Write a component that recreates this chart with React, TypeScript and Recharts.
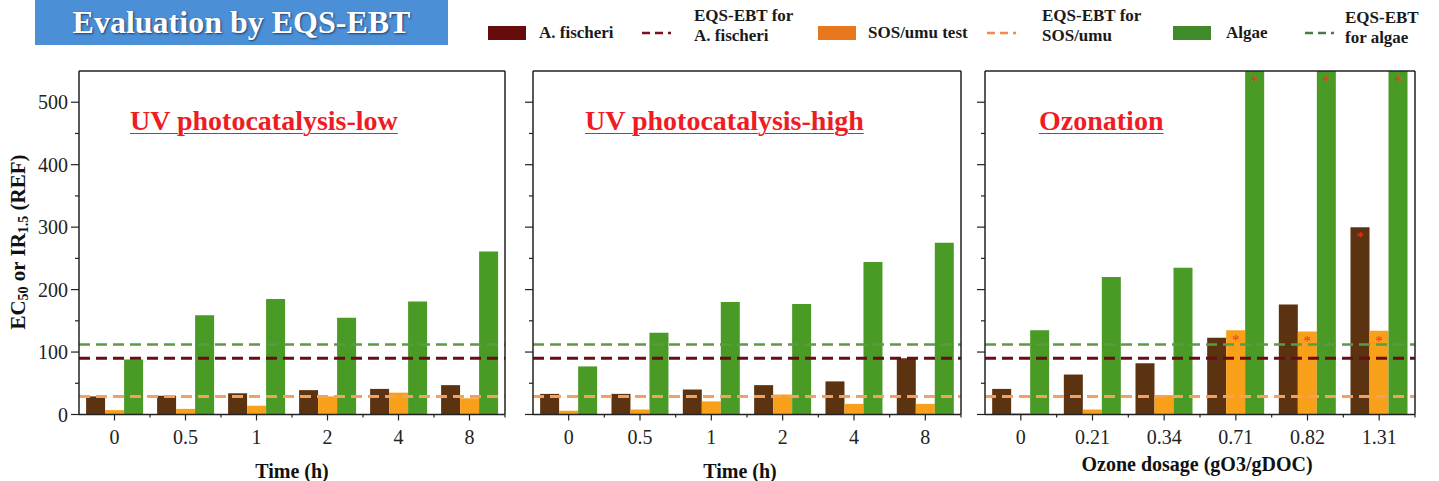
import { BarChart, Bar, XAxis, YAxis, ReferenceLine, LabelList } from "recharts";

const FONT = '"Liberation Serif", "Times New Roman", serif';

// x categories
const timeCats = ["0", "0.5", "1", "2", "4", "8"];
const ozoneCats = ["0", "0.21", "0.34", "0.71", "0.82", "1.31"];

// UV photocatalysis-low
const lowFischeri = [29, 30, 34, 39, 41, 47];
const lowSos = [7, 9, 14, 29, 35, 26];
const lowAlgae = [88, 159, 185, 155, 181, 261];

// UV photocatalysis-high
const highFischeri = [33, 33, 40, 47, 53, 90];
const highSos = [6, 8, 21, 32, 17, 17];
const highAlgae = [77, 131, 180, 177, 244, 275];

// Ozonation (algae bars run off the top of the axis)
const ozFischeri = [41, 64, 82, 123, 176, 300];
const ozSos = [2, 8, 31, 135, 133, 134];
const ozAlgae = [135, 220, 235, 550, 550, 550];
const ozFischeriStar = [false, false, false, false, false, true];
const ozSosStar = [false, false, false, true, true, true];
const ozAlgaeStar = [false, false, false, true, true, true];

// EQS-EBT thresholds
const eqsFischeri = 90;
const eqsSos = 29;
const eqsAlgae = 112;

const yMax = 550;
const yTicks = [0, 50, 100, 150, 200, 250, 300, 350, 400, 450, 500];

const C_FISCHERI = "#5c3311";
const C_SOS = "#f9a01b";
const C_ALGAE = "#4a9a26";
const AXIS = "#222";

const TICK_MARGIN = 10;

function XTick({ x, y, payload, band }: any) {
  const axisY = y - TICK_MARGIN;
  return (
    <g>
      <line x1={x} x2={x} y1={axisY} y2={axisY + 6} stroke={AXIS} strokeWidth={1.2} />
      <line x1={x + band / 2} x2={x + band / 2} y1={axisY} y2={axisY + 3} stroke={AXIS} strokeWidth={1.2} />
      <text x={x} y={axisY + 29} textAnchor="middle" fill="#222" fontSize={20} fontFamily={FONT}>
        {payload.value}
      </text>
    </g>
  );
}

function YTick({ x, y, payload, showLabel }: any) {
  const axisX = x + TICK_MARGIN;
  const major = payload.value % 100 === 0;
  return (
    <g>
      <line x1={axisX} x2={axisX - (major ? 8 : 4)} y1={y} y2={y} stroke={AXIS} strokeWidth={1.2} />
      {major && showLabel && (
        <text x={axisX - 11} y={y} dy="0.35em" textAnchor="end" fill="#222" fontSize={20} fontFamily={FONT}>
          {payload.value}
        </text>
      )}
    </g>
  );
}

const starLabel = (flags: boolean[]) => (props: any) => {
  const { x, y, width, index } = props;
  if (!flags[index]) return null;
  return (
    <text x={x + width / 2} y={y + 15} textAnchor="middle" fill="#ff2a2a" fontSize={15} fontFamily={FONT}>
      *
    </text>
  );
};

type PanelProps = {
  left: number;
  width: number;
  yAxisWidth: number;
  rightMargin: number;
  cats: string[];
  fischeri: number[];
  sos: number[];
  algae: number[];
  stars?: { fischeri: boolean[]; sos: boolean[]; algae: boolean[] };
  showYLabels: boolean;
};

function Panel(p: PanelProps) {
  const data = p.cats.map((c, i) => ({
    cat: c,
    fischeri: p.fischeri[i],
    sos: p.sos[i],
    algae: p.algae[i],
  }));
  const band = (p.width - p.yAxisWidth - p.rightMargin) / p.cats.length;
  const lastIndex = p.cats.length - 1;
  return (
    <div style={{ position: "absolute", left: p.left, top: 0 }}>
      <BarChart
        width={p.width}
        height={481}
        data={data}
        margin={{ top: 71, right: p.rightMargin, bottom: 0, left: 0 }}
        barCategoryGap="10%"
        barGap={0}
      >
        <XAxis
          dataKey="cat"
          height={66.5}
          interval={0}
          tickLine={false}
          tickSize={0}
          tickMargin={TICK_MARGIN}
          axisLine={{ stroke: AXIS, strokeWidth: 1.5 }}
          tick={(t: any) => <XTick {...t} band={band} />}
        />
        {/* hidden index axis spanning the plot, used only to place the right edge of the frame */}
        <XAxis xAxisId="frame" type="number" domain={[0, lastIndex]} allowDataOverflow hide />
        <YAxis
          width={p.yAxisWidth}
          domain={[0, yMax]}
          ticks={yTicks}
          interval={0}
          tickLine={false}
          tickSize={0}
          tickMargin={TICK_MARGIN}
          axisLine={{ stroke: AXIS, strokeWidth: 1.5 }}
          tick={(t: any) => <YTick {...t} showLabel={p.showYLabels} />}
        />
        <Bar dataKey="fischeri" fill={C_FISCHERI} isAnimationActive={false}>
          {p.stars && <LabelList dataKey="fischeri" content={starLabel(p.stars.fischeri)} />}
        </Bar>
        <Bar dataKey="sos" fill={C_SOS} isAnimationActive={false}>
          {p.stars && <LabelList dataKey="sos" content={starLabel(p.stars.sos)} />}
        </Bar>
        <Bar dataKey="algae" fill={C_ALGAE} isAnimationActive={false}>
          {p.stars && <LabelList dataKey="algae" content={starLabel(p.stars.algae)} />}
        </Bar>
        <ReferenceLine y={eqsAlgae} stroke="#5b9b45" strokeWidth={2.5} strokeDasharray="11 6" />
        <ReferenceLine y={eqsFischeri} stroke="#6b0b17" strokeWidth={3} strokeDasharray="11 6" />
        <ReferenceLine y={eqsSos} stroke="#f2a163" strokeWidth={3} strokeDasharray="11 6" />
        {/* top and right edges of the frame */}
        <ReferenceLine y={yMax} stroke={AXIS} strokeWidth={1.5} />
        <ReferenceLine xAxisId="frame" x={lastIndex} stroke={AXIS} strokeWidth={1.5} />
      </BarChart>
    </div>
  );
}

function LegendBox({ x, color }: { x: number; color: string }) {
  return <div style={{ position: "absolute", left: x, top: 26, width: 38, height: 14, background: color }} />;
}

function LegendDash({ x, color }: { x: number; color: string }) {
  return (
    <svg style={{ position: "absolute", left: x, top: 28 }} width={32} height={10}>
      <line x1={0} x2={29} y1={5} y2={5} stroke={color} strokeWidth={2.5} strokeDasharray="8 5" />
    </svg>
  );
}

function LegendText({ x, top, lines }: { x: number; top: number; lines: string[] }) {
  return (
    <div
      style={{
        position: "absolute",
        left: x,
        top,
        fontSize: 17,
        lineHeight: "20px",
        fontWeight: "bold",
        color: "#1a1a1a",
        whiteSpace: "nowrap",
      }}
    >
      {lines.map((l) => (
        <div key={l}>{l}</div>
      ))}
    </div>
  );
}

function PanelTitle({ x, text }: { x: number; text: string }) {
  return (
    <div
      style={{
        position: "absolute",
        left: x,
        top: 105,
        fontSize: 28,
        lineHeight: "32px",
        fontWeight: "bold",
        color: "#ee1c24",
        textDecoration: "underline",
        textDecorationThickness: 1,
        textUnderlineOffset: 3,
        whiteSpace: "nowrap",
      }}
    >
      {text}
    </div>
  );
}

function AxisTitle({ cx, top, text }: { cx: number; top: number; text: string }) {
  return (
    <div
      style={{
        position: "absolute",
        left: cx - 150,
        width: 300,
        top,
        textAlign: "center",
        fontSize: 20,
        lineHeight: "22px",
        fontWeight: "bold",
        color: "#111",
        whiteSpace: "nowrap",
      }}
    >
      {text}
    </div>
  );
}

export default function App() {
  return (
    <div
      style={{
        position: "absolute",
        left: 0,
        top: 0,
        width: 1439,
        height: 481,
        background: "#fff",
        fontFamily: FONT,
        overflow: "hidden",
      }}
    >
      <div
        style={{
          position: "absolute",
          left: 35,
          top: 0,
          width: 413,
          height: 45,
          background: "#4b8fd6",
          color: "#fff",
          fontSize: 32,
          fontWeight: "bold",
          lineHeight: "44px",
          textAlign: "center",
          textShadow: "1px 1px 2px rgba(20,40,80,0.8)",
        }}
      >
        Evaluation by EQS-EBT
      </div>

      <LegendBox x={488} color="#660c0c" />
      <LegendText x={539} top={23} lines={["A. fischeri"]} />
      <LegendDash x={642} color="#7a1020" />
      <LegendText x={694} top={6} lines={["EQS-EBT for", "A. fischeri"]} />
      <LegendBox x={818} color="#e8781e" />
      <LegendText x={868} top={23} lines={["SOS/umu test"]} />
      <LegendDash x={987} color="#f08a50" />
      <LegendText x={1042} top={6} lines={["EQS-EBT for", "SOS/umu"]} />
      <LegendBox x={1173} color="#3f8a2a" />
      <LegendText x={1226} top={23} lines={["Algae"]} />
      <LegendDash x={1305} color="#4a7a4a" />
      <LegendText x={1345} top={8} lines={["EQS-EBT", "for algae"]} />

      <svg style={{ position: "absolute", left: 0, top: 0 }} width={40} height={481}>
        <text
          x={18}
          y={242}
          transform="rotate(-90, 18, 242)"
          textAnchor="middle"
          dominantBaseline="central"
          fontSize={21}
          fontWeight="bold"
          fontFamily={FONT}
          fill="#111"
        >
          EC
          <tspan fontSize={14} dy={5}>50</tspan>
          <tspan dy={-5}> or IR</tspan>
          <tspan fontSize={14} dy={5}>1.5</tspan>
          <tspan dy={-5}> (REF)</tspan>
        </text>
      </svg>

      <Panel
        left={0}
        width={520}
        yAxisWidth={79}
        rightMargin={15}
        cats={timeCats}
        fischeri={lowFischeri}
        sos={lowSos}
        algae={lowAlgae}
        showYLabels
      />
      <Panel
        left={520}
        width={456}
        yAxisWidth={13}
        rightMargin={15}
        cats={timeCats}
        fischeri={highFischeri}
        sos={highSos}
        algae={highAlgae}
        showYLabels={false}
      />
      <Panel
        left={976}
        width={463}
        yAxisWidth={9}
        rightMargin={24}
        cats={ozoneCats}
        fischeri={ozFischeri}
        sos={ozSos}
        algae={ozAlgae}
        stars={{ fischeri: ozFischeriStar, sos: ozSosStar, algae: ozAlgaeStar }}
        showYLabels={false}
      />

      <AxisTitle cx={292} top={460} text="Time (h)" />
      <AxisTitle cx={740} top={460} text="Time (h)" />
      <AxisTitle cx={1197} top={453} text="Ozone dosage (gO3/gDOC)" />

      <PanelTitle x={130} text="UV photocatalysis-low" />
      <PanelTitle x={585} text="UV photocatalysis-high" />
      <PanelTitle x={1039} text="Ozonation" />
    </div>
  );
}
